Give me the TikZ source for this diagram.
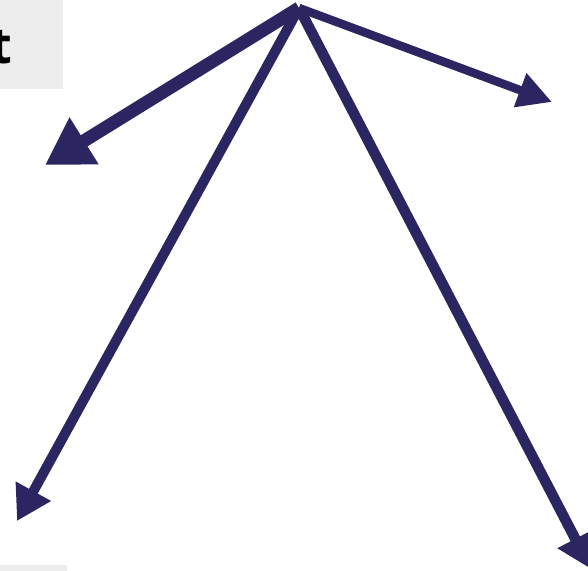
\documentclass[tikz,border=0pt]{standalone}
\usepackage{fontspec}
\newfontfamily\labelfont{Open Sans}[BoldFont={* Bold}]
\usetikzlibrary{arrows.meta}
\definecolor{navy}{RGB}{43,38,98}
\definecolor{boxgrey}{RGB}{237,237,237}
\tikzset{
  conn/.style={draw=navy, line cap=butt, line join=miter},
  greybox/.style={fill=boxgrey, draw=none},
}
\begin{document}
\begin{tikzpicture}[x=1pt,y=-1pt]
\useasboundingbox (0,0) rectangle (588,570);
\clip (0,0) rectangle (588,570);
\fill[white] (0,0) rectangle (588,570);
% grey boxes (cut off by the picture edge)
\path[greybox] (-40,0) rectangle (63,89);
\path[greybox] (-40,565) rectangle (67,600);
\node[anchor=base east, inner sep=0pt, font=\labelfont\fontsize{50}{60}\selectfont\bfseries] (label) at (12,63) {t};
% apex and arrow ends
\coordinate (apex) at (299,8);
\coordinate (ul) at (45,165);
\coordinate (ur) at (552,102);
\coordinate (ll) at (17,521);
\coordinate (lr) at (591,569);
\draw[conn, line width=13pt, -{Triangle[length=46pt,width=52pt]}] (apex) -- (ul);
\draw[conn, line width=8.5pt, -{Triangle[length=34pt,width=34pt]}] (apex) -- (ur);
\draw[conn, line width=10pt, -{Triangle[length=34pt,width=38pt]}] (apex) -- (ll);
\draw[conn, line width=10.5pt, -{Triangle[length=34pt,width=38pt]}] (apex) -- (lr);
\end{tikzpicture}
\end{document}
